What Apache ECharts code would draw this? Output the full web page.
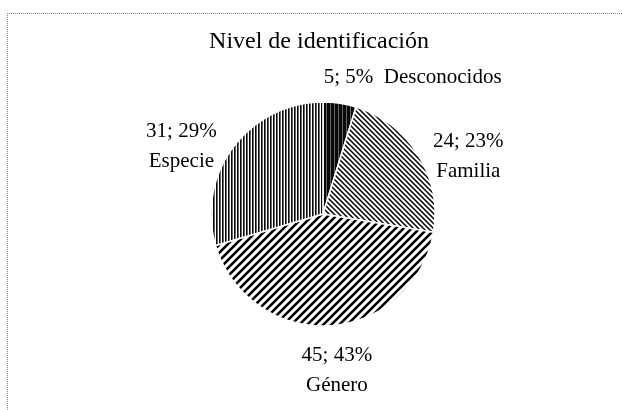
<!DOCTYPE html>
<html>
<head>
<meta charset="utf-8">
<script src="https://cdn.jsdelivr.net/npm/echarts@6/dist/echarts.min.js"></script>
<style>
  html, body { margin: 0; padding: 0; background: #fff; }
  #wrap { position: relative; width: 622px; height: 410px; overflow: hidden; }
  #frame { position: absolute; left: 7px; top: 13px; width: 640px; height: 420px;
           border-left: 1px dotted #888; border-top: 1px dotted #888; pointer-events: none; }
  #chart { position: absolute; left: 0; top: 0; width: 622px; height: 410px; }
</style>
</head>
<body>
<div id="wrap">
  <div id="frame"></div>
  <div id="chart"></div>
</div>
<script>
// ---- data ----
const categories = ['Desconocidos', 'Familia', 'Género', 'Especie'];
const values = [5, 24, 45, 31];
const chartTitle = 'Nivel de identificación';

// ---- hatch patterns ----
function makeTile(w, h, draw) {
  const c = document.createElement('canvas');
  c.width = w; c.height = h;
  const ctx = c.getContext('2d');
  draw(ctx, w, h);
  return c;
}
const patDesconocidos = makeTile(4, 4, (ctx, w, h) => {
  ctx.fillStyle = '#0a0a0a'; ctx.fillRect(0, 0, w, h);
  ctx.fillStyle = '#666'; ctx.fillRect(2, 0, 1, h);
});
const patFamilia = makeTile(5, 5, (ctx, w, h) => {
  ctx.fillStyle = '#fff'; ctx.fillRect(0, 0, w, h);
  ctx.strokeStyle = '#000'; ctx.lineWidth = 1.5;
  ctx.beginPath();
  ctx.moveTo(-1, -1); ctx.lineTo(w + 1, h + 1);
  ctx.moveTo(-1, h - 1); ctx.lineTo(1, h + 1);
  ctx.moveTo(w - 1, -1); ctx.lineTo(w + 1, 1);
  ctx.stroke();
});
const patGenero = makeTile(8, 8, (ctx, w, h) => {
  ctx.fillStyle = '#fff'; ctx.fillRect(0, 0, w, h);
  ctx.strokeStyle = '#000'; ctx.lineWidth = 2.6;
  ctx.beginPath();
  ctx.moveTo(-1, h + 1); ctx.lineTo(w + 1, -1);
  ctx.moveTo(-1, 1); ctx.lineTo(1, -1);
  ctx.moveTo(w - 1, h + 1); ctx.lineTo(w + 1, h - 1);
  ctx.stroke();
});
const patEspecie = makeTile(3, 4, (ctx, w, h) => {
  ctx.fillStyle = '#fff'; ctx.fillRect(0, 0, w, h);
  ctx.fillStyle = '#0a0a0a'; ctx.fillRect(0, 0, 1, h);
  ctx.fillStyle = '#666'; ctx.fillRect(1, 0, 1, h);
});
const patterns = [patDesconocidos, patFamilia, patGenero, patEspecie];

// label fine offsets (dx, dy) relative to the library's outside anchor
const labelOffsets = [[65, -6], [28, 12], [1, 25], [-31, 12]];

const chart = echarts.init(document.getElementById('chart'), null, { renderer: 'canvas' });
chart.setOption({
  backgroundColor: 'transparent',
  animation: false,
  title: {
    text: chartTitle,
    left: 314,
    top: 25,
    textAlign: 'center',
    textStyle: { fontFamily: 'Liberation Serif', fontSize: 24, fontWeight: 'normal', color: '#000' }
  },
  series: [{
    type: 'pie',
    center: [323, 214],
    radius: 112,
    startAngle: 90,
    clockwise: true,
    percentPrecision: 0,
    avoidLabelOverlap: false,
    itemStyle: { borderColor: '#fff', borderWidth: 1.5 },
    label: {
      show: true,
      position: 'outside',
      alignTo: 'none',
      fontFamily: 'Liberation Serif',
      fontSize: 21,
      lineHeight: 30,
      color: '#000',
      formatter: function (p) {
        return p.dataIndex === 0 ? (p.value + '; ' + p.percent + '%  ' + p.name)
                                 : (p.value + '; ' + p.percent + '%\n' + p.name);
      }
    },
    labelLine: { show: false, length: 20, length2: 0 },
    labelLayout: function (p) {
      const o = labelOffsets[p.dataIndex];
      return { align: 'center', verticalAlign: 'middle', dx: o[0], dy: o[1] };
    },
    emphasis: { disabled: true },
    data: categories.map((name, i) => ({
      name: name,
      value: values[i],
      itemStyle: { color: { image: patterns[i], repeat: 'repeat' } }
    }))
  }]
});
</script>
</body>
</html>
